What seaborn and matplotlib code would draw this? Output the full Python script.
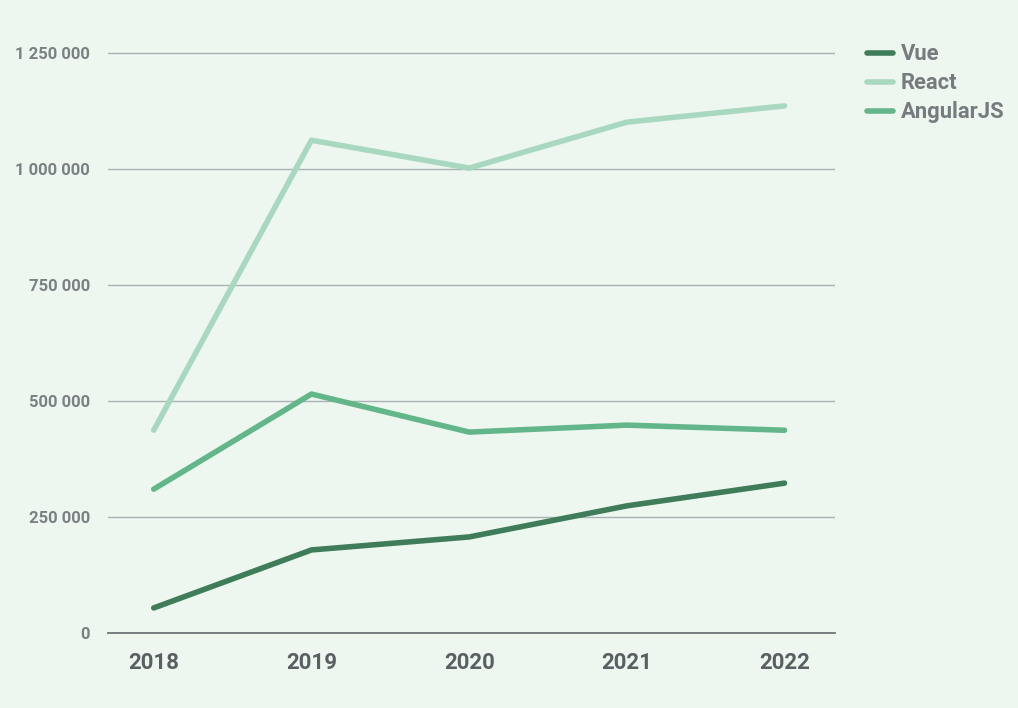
import matplotlib
matplotlib.use("Agg")
import matplotlib.pyplot as plt
import seaborn as sns
import pandas as pd

years = [2018, 2019, 2020, 2021, 2022]
vue = [54000, 179000, 207000, 274000, 323000]
react = [437000, 1062000, 1002000, 1101000, 1136000]
angular = [310000, 515000, 433000, 448000, 437000]
series_names = ["Vue", "React", "AngularJS"]
colors = ["#3f7d5a", "#a9d8c0", "#62b68a"]
yticks = [0, 250000, 500000, 750000, 1000000, 1250000]

bg = "#edf7f0"
sns.set_theme(style="white")
plt.rcParams['font.family'] = ['Roboto', 'DejaVu Sans']

df = pd.DataFrame({"year": years * 3,
                   "value": vue + react + angular,
                   "framework": [n for n in series_names for _ in years]})

fig = plt.figure(figsize=(10.18, 7.08), dpi=100, facecolor=bg)
ax = fig.add_axes([108 / 1018, 75 / 708, (835 - 108) / 1018, (633 - 39) / 708])
ax.set_facecolor(bg)

sns.lineplot(data=df, x="year", y="value", hue="framework", palette=colors,
             hue_order=series_names, linewidth=4, ax=ax, legend=False)

ax.set_xlim(2018 - 0.29, 2022 + 0.32)
ax.set_ylim(0, 1250000 * (633 - 39) / (633 - 53))
ax.set_yticks(yticks)
ax.set_yticklabels([f"{v:,}".replace(",", " ") for v in yticks])
ax.set_xticks(years)
ax.set_xticklabels([str(y) for y in years])
ax.grid(axis="y", color="#aab2b3", linewidth=1)
ax.set_axisbelow(True)
for s in ["top", "right", "left"]:
    ax.spines[s].set_visible(False)
ax.spines["bottom"].set_color("#6f7476")
ax.spines["bottom"].set_linewidth(1.3)
ax.tick_params(axis="y", length=0, pad=13, labelsize=12, labelcolor="#7b8083")
ax.tick_params(axis="x", length=0, pad=14, labelsize=16, labelcolor="#5a5f62")
for lbl in ax.get_yticklabels() + ax.get_xticklabels():
    lbl.set_fontweight("bold")
ax.set_xlabel("")
ax.set_ylabel("")

for i, (name, c) in enumerate(zip(series_names, colors)):
    y = 53 + i * 29
    fig.lines.append(plt.Line2D([867 / 1018, 893 / 1018], [1 - y / 708, 1 - y / 708],
                                color=c, linewidth=4, transform=fig.transFigure))
    fig.text(901 / 1018, 1 - (y + 1) / 708, name, color="#767b7e", fontsize=15.8,
             fontweight="bold", va="center", ha="left")

fig.savefig("out.png", dpi=100, facecolor=bg)
